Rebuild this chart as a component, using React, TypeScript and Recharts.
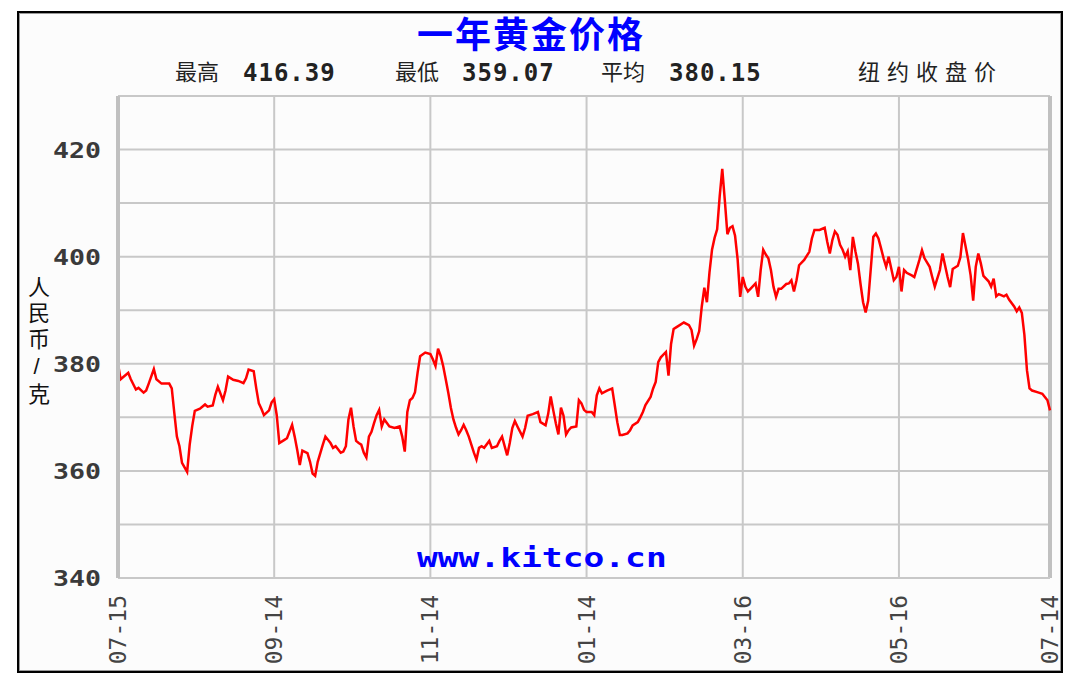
import { CartesianGrid, Line, LineChart, ReferenceLine, XAxis, YAxis } from "recharts";

// day offset from 07-15, NY close (CNY / gram)
const julSep: [number, number][] = [
  [0, 380.0], [1, 377.1], [3, 377.9], [4, 378.3], [5, 377.1], [7, 375.2], [8, 375.5], [10, 374.6],
  [11, 375.0], [12, 376.3], [14, 379.0], [15, 377.1], [17, 376.3], [20, 376.3], [21, 375.4], [22, 370.8],
  [23, 366.4], [24, 364.6], [25, 361.5], [27, 359.8], [28, 364.9], [29, 368.4], [30, 371.2], [32, 371.6],
  [34, 372.4], [35, 372.0], [37, 372.2], [38, 374.2], [39, 375.7], [41, 373.2], [42, 375.0], [43, 377.6],
  [45, 377.0], [47, 376.8], [49, 376.4], [50, 377.3], [51, 378.9], [53, 378.6], [54, 375.4], [55, 372.6],
  [56, 371.6], [57, 370.4], [59, 371.3], [60, 372.8], [61, 373.4], [62, 370.4], [63, 365.2],
];

const sepNov: [number, number][] = [
  [65, 365.8], [66, 366.1], [68, 368.6], [69, 366.4], [70, 363.9], [71, 361.1], [72, 363.8], [74, 363.3],
  [75, 361.7], [76, 359.5], [77, 359.07], [78, 361.7], [80, 364.9], [81, 366.4], [82, 365.8], [83, 365.2],
  [84, 364.3], [85, 364.6], [87, 363.4], [88, 363.6], [89, 364.6], [90, 369.6], [91, 371.8], [92, 368.3],
  [93, 365.6], [94, 365.2], [95, 364.9], [96, 363.4], [97, 362.5], [98, 366.4], [99, 367.3], [100, 368.9],
  [101, 370.4], [102, 371.4], [103, 368.3], [104, 369.6], [106, 368.3], [108, 368.0], [110, 368.3], [111, 366.4],
  [112, 363.6], [113, 371.0], [114, 373.2], [115, 373.6], [116, 374.7], [117, 378.3], [118, 381.4], [120, 382.1],
  [122, 381.8], [123, 380.8], [124, 379.6],
];

const novJan: [number, number][] = [
  [125, 382.8], [126, 381.5], [127, 379.6], [128, 377.1], [129, 374.6], [130, 371.8], [131, 369.6], [132, 368.1],
  [133, 366.8], [134, 367.6], [135, 368.6], [136, 367.6], [137, 366.4], [138, 364.9], [139, 363.4], [140, 362.1],
  [141, 364.3], [142, 364.6], [143, 364.3], [145, 365.6], [146, 364.3], [148, 364.6], [149, 365.6], [150, 366.4],
  [152, 362.9], [153, 365.2], [154, 368.0], [155, 369.3], [156, 368.3], [158, 366.4], [159, 368.0], [160, 370.3],
  [162, 370.6], [164, 371.0], [165, 369.1], [167, 368.5], [168, 370.6], [169, 373.9], [170, 371.3], [171, 368.9],
  [172, 366.8], [173, 371.8], [174, 370.3], [175, 366.8], [176, 367.6], [177, 368.1], [179, 368.3], [180, 373.2],
  [181, 372.6], [182, 371.4], [183, 371.0], [185, 371.0],
];

const janMar: [number, number][] = [
  [186, 370.4], [187, 374.1], [188, 375.4], [189, 374.5], [191, 375.0], [193, 375.4], [194, 372.3], [195, 369.1],
  [196, 366.7], [197, 366.7], [199, 367.0], [200, 367.6], [201, 368.5], [203, 369.1], [204, 370.0], [205, 371.0],
  [206, 372.3], [208, 373.8], [209, 375.4], [210, 376.6], [211, 380.3], [212, 381.2], [214, 382.2], [215, 377.8],
  [216, 383.7], [217, 386.5], [218, 386.8], [221, 387.7], [223, 387.2], [224, 386.3], [225, 383.4], [226, 384.6],
  [227, 386.1], [228, 390.7], [229, 394.2], [230, 391.5], [231, 397.0], [232, 401.3], [233, 403.5], [234, 405.1],
  [235, 411.3], [236, 416.39], [237, 410.5], [238, 404.2], [239, 405.4], [240, 405.7], [241, 403.9], [242, 399.5],
  [243, 392.5], [244, 396.2],
];

const marMay: [number, number][] = [
  [245, 394.4], [246, 393.5], [247, 394.0], [249, 395.0], [250, 392.5], [251, 397.5], [252, 401.3], [253, 400.4],
  [254, 399.7], [255, 397.5], [256, 394.4], [257, 392.5], [258, 394.0], [259, 394.0], [261, 394.9], [262, 395.0],
  [263, 395.6], [264, 393.5], [265, 395.6], [266, 398.4], [268, 399.4], [270, 400.9], [271, 403.4], [272, 405.0],
  [274, 405.0], [276, 405.4], [277, 402.8], [278, 400.6], [279, 403.1], [280, 404.7], [281, 404.1], [282, 402.2],
  [283, 401.3], [284, 400.0], [285, 401.0], [286, 397.5], [287, 403.7], [288, 401.0], [289, 398.7], [290, 394.9],
  [291, 391.5], [292, 389.6], [293, 391.8], [294, 397.7], [295, 403.7], [296, 404.3], [297, 403.4], [298, 401.6],
  [299, 399.7], [300, 398.1], [301, 400.0], [302, 397.8], [303, 395.6], [304, 396.2], [305, 398.1], [306, 393.5],
];

const mayJul: [number, number][] = [
  [307, 397.5], [308, 397.0], [310, 396.5], [311, 396.2], [313, 399.4], [314, 401.2], [315, 399.7], [317, 398.1],
  [318, 396.2], [319, 394.4], [321, 397.5], [322, 400.6], [323, 398.4], [324, 396.2], [325, 394.3], [326, 397.7],
  [328, 398.3], [329, 399.9], [330, 404.4], [331, 402.0], [332, 399.5], [333, 396.5], [334, 391.8], [335, 398.1],
  [336, 400.6], [337, 398.7], [338, 396.4], [340, 395.4], [341, 394.4], [342, 395.9], [343, 392.6], [344, 393.0],
  [346, 392.6], [347, 392.9], [348, 392.0], [350, 390.7], [351, 389.8], [352, 390.5], [353, 389.5], [354, 385.4],
  [355, 378.8], [356, 375.4], [357, 375.0], [359, 374.7], [361, 374.4], [362, 373.8], [363, 373.2], [364, 371.3],
];

const tickDays = [0, 61, 122, 183, 244, 305, 364];
const tickLabels = ["07-15", "09-14", "11-14", "01-14", "03-16", "05-16", "07-14"];
const priceTicks = [340, 350, 360, 370, 380, 390, 400, 410, 420, 430];
const labeledPrices = [340, 360, 380, 400, 420];

const data = [...julSep, ...sepNov, ...novJan, ...janMar, ...marMay, ...mayJul].map(([day, price]) => ({ day, price }));

const mono = "'DejaVu Sans Mono', monospace";
// latin primary font keeps the CJK line boxes tight
const cjk = "'Liberation Sans', 'Noto Sans CJK SC', sans-serif";

const PriceTick = ({ x, y, payload }: any) => {
  if (!labeledPrices.includes(payload.value)) return null;
  return (
    <text x={x - 15} y={y} dy={8} textAnchor="end" fontFamily={mono} fontWeight="bold" fontSize={21}
      fill="#3a3a3a" textLength={48} lengthAdjust="spacingAndGlyphs">
      {payload.value}
    </text>
  );
};

const DateTick = ({ x, y, payload }: any) => {
  const label = tickLabels[tickDays.indexOf(payload.value)];
  return (
    <text transform={`translate(${x + 8},${y + 15}) rotate(-90)`} textAnchor="end"
      fontFamily={mono} fontSize={23} fill="#444">
      {label}
    </text>
  );
};

const abs = (left: number, top: number, extra: any = {}) => ({ position: "absolute" as const, left, top, whiteSpace: "nowrap" as const, ...extra });

export default function App() {
  return (
    <div style={{ position: "fixed", left: 0, top: 0, width: 1080, height: 691, background: "#fff" }}>
      <div style={{
        position: "absolute", left: 17, top: 11, width: 1046, height: 662, boxSizing: "border-box",
        border: "2px solid #000", boxShadow: "inset 0 0 0 1px #999", background: "#fcfcfc",
      }} />
      <div style={{ position: "absolute", left: 0, top: 0 }}>
        <LineChart width={1080} height={691} data={data} margin={{ top: 96, right: 30, bottom: 13, left: 18 }}>
          <CartesianGrid stroke="#c8c8c8" strokeWidth={2} />
          <XAxis dataKey="day" type="number" domain={[0, 364]} ticks={tickDays} interval={0} height={100}
            tickLine={false} tickSize={0} tick={<DateTick />} axisLine={{ stroke: "#c8c8c8", strokeWidth: 2 }} />
          <YAxis type="number" domain={[340, 430]} ticks={priceTicks} interval={0} width={100}
            tickLine={false} tickSize={0} tick={<PriceTick />} axisLine={{ stroke: "#c0c0c0", strokeWidth: 4 }} />
          <ReferenceLine x={364} stroke="#c0c0c0" strokeWidth={4} />
          <Line type="linear" dataKey="price" stroke="#ff0000" strokeWidth={2.5} dot={false} isAnimationActive={false} />
        </LineChart>
      </div>

      <div style={abs(400, 18, { width: 262, textAlign: "center", fontFamily: cjk, fontWeight: 700, fontSize: 36, lineHeight: "36px", color: "#0000ff", letterSpacing: 2 })}>
        一年黄金价格
      </div>

      <div style={abs(175, 60, { fontFamily: cjk, fontSize: 22, lineHeight: "26px", color: "#222" })}>最高</div>
      <div style={abs(243, 60, { fontFamily: mono, fontWeight: 700, fontSize: 24, lineHeight: "26px", color: "#222", letterSpacing: 1 })}>416.39</div>
      <div style={abs(395, 60, { fontFamily: cjk, fontSize: 22, lineHeight: "26px", color: "#222" })}>最低</div>
      <div style={abs(462, 60, { fontFamily: mono, fontWeight: 700, fontSize: 24, lineHeight: "26px", color: "#222", letterSpacing: 1 })}>359.07</div>
      <div style={abs(601, 60, { fontFamily: cjk, fontSize: 22, lineHeight: "26px", color: "#222" })}>平均</div>
      <div style={abs(669, 60, { fontFamily: mono, fontWeight: 700, fontSize: 24, lineHeight: "26px", color: "#222", letterSpacing: 1 })}>380.15</div>
      <div style={abs(858, 60, { fontFamily: cjk, fontSize: 22, lineHeight: "26px", color: "#222", letterSpacing: 7 })}>纽约收盘价</div>

      <div style={abs(23, 276, { width: 26, fontFamily: cjk, fontSize: 22, lineHeight: "26px", color: "#111", writingMode: "vertical-rl", textOrientation: "upright", letterSpacing: 4 })}>
        人民币/克
      </div>

      <div style={abs(417, 542, { fontFamily: mono, fontWeight: 700, fontSize: 27, lineHeight: "32px", color: "#0000ff", transform: "scaleX(1.28)", transformOrigin: "left top" })}>
        www.kitco.cn
      </div>
    </div>
  );
}
